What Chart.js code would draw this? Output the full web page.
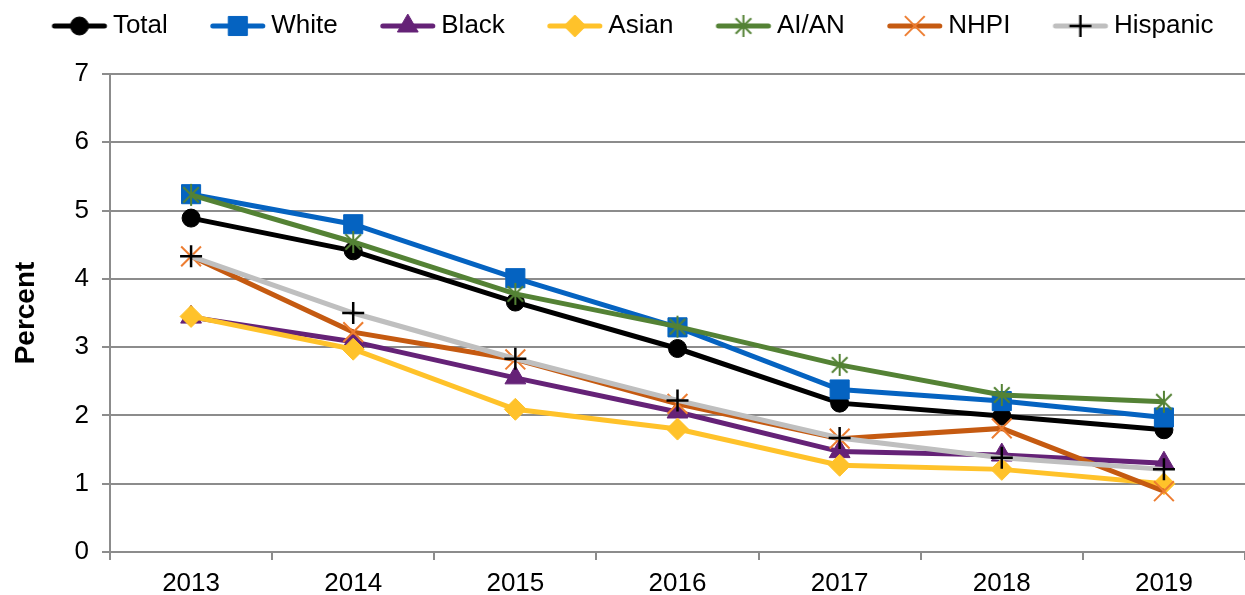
<!DOCTYPE html>
<html>
<head>
<meta charset="utf-8">
<title>Percent by race and ethnicity, 2013-2019</title>
<script src="https://cdn.jsdelivr.net/npm/chart.js@4/dist/chart.umd.min.js"></script>
<style>
  html, body { margin: 0; padding: 0; background: #fff; }
  #chart { display: block; }
</style>
</head>
<body>
<canvas id="chart" width="1245" height="595"></canvas>
<script>
// categories and series
var years = ['2013', '2014', '2015', '2016', '2017', '2018', '2019'];
var total    = [4.89, 4.41, 3.66, 2.98, 2.18, 1.99, 1.79];
var white    = [5.24, 4.80, 4.01, 3.29, 2.38, 2.21, 1.97];
var black    = [3.44, 3.08, 2.55, 2.05, 1.47, 1.42, 1.30];
var asian    = [3.45, 2.97, 2.09, 1.80, 1.27, 1.21, 1.00];
var aian     = [5.23, 4.54, 3.78, 3.30, 2.74, 2.30, 2.20];
var nhpi     = [4.33, 3.22, 2.82, 2.17, 1.66, 1.81, 0.89];
var hispanic = [4.33, 3.50, 2.83, 2.22, 1.67, 1.38, 1.21];

var yMin = 0, yMax = 7, yStep = 1;

var FONT = "'Liberation Sans', Arial, sans-serif";
var GRID = '#8c8c8c';

// asterisk marker (vertical bar + X), chart.js has no 6-arm star
function asterisk(color, r) {
  var c = document.createElement('canvas');
  var s = Math.ceil(r * 2 + 4);
  c.width = s; c.height = s;
  var g = c.getContext('2d');
  var m = s / 2, d = r * Math.SQRT1_2;
  g.strokeStyle = color; g.lineWidth = 2;
  g.beginPath();
  g.moveTo(m, m - r); g.lineTo(m, m + r);
  g.moveTo(m - d, m - d); g.lineTo(m + d, m + d);
  g.moveTo(m - d, m + d); g.lineTo(m + d, m - d);
  g.stroke();
  return c;
}

function series(label, data, line, style, radius, fill, edge, edgeWidth, order) {
  return {
    label: label,
    data: data,
    borderColor: line,
    backgroundColor: line,
    borderWidth: 5,
    tension: 0,
    pointStyle: style,
    pointRadius: radius,
    pointHoverRadius: radius,
    pointBackgroundColor: fill,
    pointBorderColor: edge,
    pointBorderWidth: edgeWidth,
    order: order
  };
}

var datasets = [
  series('Total',    total,    '#000000', 'circle',   9,    '#000000', '#000000', 1, 6),
  series('White',    white,    '#0563c1', 'rect',     13.5, '#0563c1', '#0563c1', 1, 5),
  series('Black',    black,    '#652277', 'triangle', 12,   '#652277', '#652277', 1, 4),
  series('Asian',    asian,    '#ffc22a', 'rectRot',  11,   '#ffc22a', '#ffc22a', 1, 3),
  series('AI/AN',    aian,     '#548235', asterisk('#548235', 11), 11, '#548235', '#548235', 2, 2),
  series('NHPI',     nhpi,     '#c55a11', 'crossRot', 14,   '#ed7d31', '#ed7d31', 2, 1),
  series('Hispanic', hispanic, '#bfbfbf', 'cross',    11,   '#000000', '#000000', 2.5, 0)
];

// legend glyph: short line with the marker in its middle
function drawMarker(g, style, x, y, r, fill, edge, w) {
  if (typeof style === 'object') {
    g.drawImage(style, x - style.width / 2, y - style.height / 2);
    return;
  }
  g.fillStyle = fill; g.strokeStyle = edge; g.lineWidth = w;
  g.beginPath();
  if (style === 'circle') {
    g.arc(x, y, r, 0, Math.PI * 2);
  } else if (style === 'rect') {
    var h = r * Math.SQRT1_2;
    g.rect(x - h, y - h, 2 * h, 2 * h);
  } else if (style === 'triangle') {
    g.moveTo(x, y - r);
    g.lineTo(x + r * Math.sin(Math.PI * 2 / 3), y + r / 2);
    g.lineTo(x - r * Math.sin(Math.PI * 2 / 3), y + r / 2);
    g.closePath();
  } else if (style === 'rectRot') {
    g.moveTo(x - r, y); g.lineTo(x, y - r); g.lineTo(x + r, y); g.lineTo(x, y + r);
    g.closePath();
  } else if (style === 'crossRot') {
    var d = r * Math.SQRT1_2;
    g.moveTo(x - d, y - d); g.lineTo(x + d, y + d);
    g.moveTo(x - d, y + d); g.lineTo(x + d, y - d);
    g.stroke();
    return;
  } else if (style === 'cross') {
    g.moveTo(x, y - r); g.lineTo(x, y + r);
    g.moveTo(x - r, y); g.lineTo(x + r, y);
    g.stroke();
    return;
  }
  g.fill();
  g.stroke();
}

var glyphs = {};
function legendGlyph(ds) {
  if (glyphs[ds.label]) return glyphs[ds.label];
  var c = document.createElement('canvas');
  c.width = 100; c.height = 32;
  var g = c.getContext('2d');
  g.strokeStyle = ds.borderColor; g.lineWidth = 5; g.lineCap = 'round';
  g.beginPath(); g.moveTo(44.75, 16); g.lineTo(94.75, 16); g.stroke();
  g.lineCap = 'butt';
  drawMarker(g, ds.pointStyle, 69.75, 16, ds.pointRadius, ds.pointBackgroundColor, ds.pointBorderColor, ds.pointBorderWidth);
  glyphs[ds.label] = c;
  return c;
}

// leave a gap between the legend row and the plot, nudge the row left
var legendGap = {
  id: 'legendGap',
  beforeInit: function(chart) {
    var fit = chart.legend.fit;
    chart.legend.fit = function() {
      fit.call(this);
      this.height += 25;
      if (this.lineWidths && this.lineWidths.length) this.lineWidths[0] += 12;
    };
  }
};

new Chart(document.getElementById('chart'), {
  type: 'line',
  data: { labels: years, datasets: datasets },
  plugins: [legendGap],
  options: {
    responsive: false,
    animation: false,
    layout: { autoPadding: false, padding: { top: 3, left: 0, right: 0, bottom: 0 } },
    plugins: {
      tooltip: { enabled: false },
      legend: {
        position: 'top',
        labels: {
          usePointStyle: true,
          pointStyleWidth: 80.5,
          padding: 10,
          color: '#000',
          font: { family: FONT, size: 26 },
          generateLabels: function(chart) {
            return chart.data.datasets.map(function(ds, i) {
              return {
                text: ds.label,
                pointStyle: legendGlyph(ds),
                fillStyle: 'rgba(0,0,0,0)',
                strokeStyle: 'rgba(0,0,0,0)',
                lineWidth: 0,
                fontColor: '#000',
                hidden: false,
                datasetIndex: i
              };
            });
          }
        }
      }
    },
    scales: {
      x: {
        offset: true,
        grid: {
          offset: true,
          drawOnChartArea: false,
          drawTicks: true,
          tickLength: 8,
          color: GRID,
          lineWidth: 2
        },
        border: { display: true, color: GRID, width: 2 },
        ticks: {
          color: '#000',
          padding: 8,
          maxRotation: 0,
          font: { family: FONT, size: 26 }
        },
        afterFit: function(scale) {
          scale.height = 43;
          scale.paddingLeft = 0;
          scale.paddingRight = 0;
        }
      },
      y: {
        min: yMin,
        max: yMax,
        grid: {
          color: GRID,
          lineWidth: 2,
          tickLength: 8
        },
        border: { display: true, color: GRID, width: 2 },
        ticks: {
          stepSize: yStep,
          color: '#000',
          padding: 13,
          font: { family: FONT, size: 26 }
        },
        title: {
          display: true,
          text: 'Percent',
          color: '#000',
          padding: { top: 9, bottom: 0 },
          font: { family: FONT, size: 28, weight: 'bold' }
        },
        afterFit: function(scale) { scale.width = 110; }
      }
    }
  }
});
</script>
</body>
</html>
